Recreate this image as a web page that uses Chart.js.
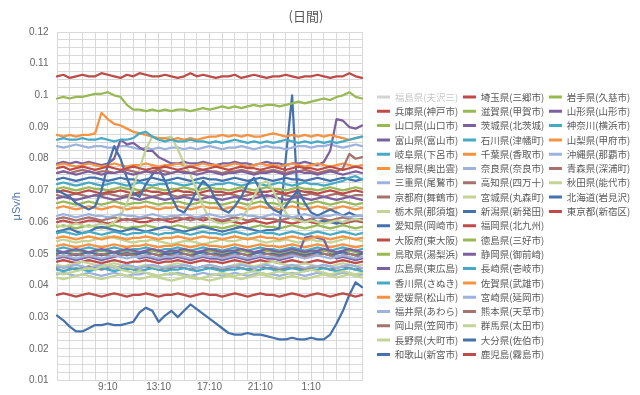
<!DOCTYPE html>
<html><head><meta charset="utf-8">
<script src="https://cdn.jsdelivr.net/npm/chart.js@4"></script>
<style>html,body{margin:0;padding:0;background:#fff;}canvas{display:block;}</style>
</head><body>
<canvas id="c" width="640" height="395"></canvas>
<script>
const timeLabels = ['5:10','5:40','6:10','6:40','7:10','7:40','8:10','8:40','9:10','9:40','10:10','10:40','11:10','11:40','12:10','12:40','13:10','13:40','14:10','14:40','15:10','15:40','16:10','16:40','17:10','17:40','18:10','18:40','19:10','19:40','20:10','20:40','21:10','21:40','22:10','22:40','23:10','23:40','0:10','0:40','1:10','1:40','2:10','2:40','3:10','3:40','4:10','4:40','5:10'];
const xTickLabels = ['9:10','13:10','17:10','21:10','1:10'];
const yTickLabels = ['0.01','0.02','0.03','0.04','0.05','0.06','0.07','0.08','0.09','0.1','0.11','0.12'];
const seriesNames = ['福島県(夫沢三)','兵庫県(神戸市)','山口県(山口市)','富山県(富山市)','岐阜県(下呂市)','島根県(奥出雲)','三重県(尾鷲市)','京都府(舞鶴市)','栃木県(那須塩)','愛知県(岡崎市)','大阪府(東大阪)','鳥取県(湯梨浜)','広島県(東広島)','香川県(さぬき)','愛媛県(松山市)','福井県(あわら)','岡山県(笠岡市)','長野県(大町市)','和歌山(新宮市)','埼玉県(三郷市)','滋賀県(甲賀市)','茨城県(北茨城)','石川県(津幡町)','千葉県(香取市)','奈良県(奈良市)','高知県(四万十)','宮城県(丸森町)','新潟県(新発田)','福岡県(北九州)','徳島県(三好市)','静岡県(御前崎)','長崎県(壱岐市)','佐賀県(武雄市)','宮崎県(延岡市)','熊本県(天草市)','群馬県(太田市)','大分県(佐伯市)','鹿児島(霧島市)','岩手県(久慈市)','山形県(山形市)','神奈川(横浜市)','山梨県(甲府市)','沖縄県(那覇市)','青森県(深浦町)','秋田県(能代市)','北海道(岩見沢)','東京都(新宿区)'];

// values in 0.001 μSv/h
const fukushima = [];
const hyogo = [77,77.5,76.5,77,77.5,77,76.5, 77,77.5,77,76.5,77,77.5,77, 76.5,77,77,77.5,77,76.5,77, 77.5,77,76.5,77,77.5,77,76.5, 77,77.5,77,77,76.5,77,77.5, 77,76.5,77,77.5,77,77,76.5, 77,77.5,77,76.5,77,77.5,77];
const yamaguchi = [99,99.5,99,99.5,99.5,100,100.5, 100.5,101,100,99.5,97,95.5,95.5, 95,95.5,95,95.5,95,95.5,95.5, 95,95.5,96,95.5,96,96.5,96, 96.5,96,96.5,97,96.5,97,97, 96.5,97,97.5,98,97.5,98,98.5, 99,98.5,99.5,100,101,99.5,99];
const toyama = [75.5,76,75.5,75,75.5,76,75.5, 75,75.5,75.5,76,75.5,75,75.5, 76,75.5,75.5,75,75.5,76,75.5, 75.5,75,75.5,76,75.5,75,75.5, 75.5,76,75.5,75,75.5,75.5,76, 75.5,75,75.5,76,75.5,75.5,75, 75.5,76,75.5,75,75.5,76,75.5];
const gifu = [86,86.5,86,86,86.5,86,86, 86.5,86,85.5,86,86,86.5,88, 88.5,87,86,85.5,86,85.5,85.5, 86,85.5,85.5,85,85.5,85,85.5, 86,85.5,85,85.5,85,85.5,85, 85.5,86,85.5,85,85.5,85,85.5, 85,85.5,85,85.5,86,86.5,87];
const shimane = [87.5,87,87.5,87,87.5,87.5,88, 94.5,92.5,91,90.5,89.5,88.5,88, 87.5,87,86.5,86.5,86,86.5,86, 86.5,86,86.5,87,87,87.5,87, 87.5,87,87.5,87,87,87.5,88, 87.5,87,87.5,87,87.5,87,87.5, 87,87.5,87,86.5,86,86.5,87];
const mie = [62,62.5,62,61.5,62,62.5,62, 62,61.5,62,62.5,62,62,61.5, 62,62.5,62,61.5,62,62,62.5, 62,61.5,62,62.5,62,61.5,62, 62,62.5,62,62,61.5,62,62.5, 62,62,61.5,62,62.5,62,61.5, 62,62,62.5,62,61.5,62,62];
const kyoto = [75.5,76,75.5,76,76.5,76,75.5, 76,76,75.5,76,76.5,76,75.5, 76,76,76.5,76,75.5,76,76, 75.5,76,76.5,76,76,75.5,76, 76,76.5,76,75.5,76,76,76.5, 76,75.5,76,76,76.5,76,75.5, 76,76.5,76,77,81.5,80,80.5];
const tochigi = [59,58.5,59,59.5,59,58.5,59, 59.5,59,60,62,66,71,77, 83,87,86,86.5,87,83,78.5, 75,70,65,61,60,59.5,60, 60.5,61,64,68,72,73,70, 66,63,61,60.5,60,60.5,60, 59.5,60,60.5,60,60.5,61,60.5];
const aichi = [70,69,68,66,65,64,65, 70,78,84,80,74,69,68, 72,75,77,73,68,64,63, 66,70,73,71,67,64,63, 65,68,72,74,70,66,64, 63,65,68,70,66,63,62, 63,64,63,62,63,62,62];
const osaka = [69.5,70,69.5,69,69.5,70,69.5, 69,69.5,69.5,70,69.5,69,69.5, 70,69.5,69.5,69,69.5,70,69.5, 69.5,69,69.5,70,69.5,69.5,69, 69.5,70,69.5,69,69.5,69.5,70, 69.5,69,69.5,70,69.5,69.5,69, 69.5,70,69.5,69,69.5,70,69.5];
const tottori = [70.5,71,70.5,70,70.5,71,70.5, 70.5,70,70.5,71,70.5,70.5,70, 70.5,71,70.5,70,70.5,70.5,71, 70.5,70,70.5,71,70.5,70.5,70, 70.5,71,70.5,70,70.5,71,70.5, 70.5,70,70.5,71,70.5,70.5,70, 70.5,71,70.5,70,70.5,71,70.5];
const hiroshima = [67.5,68,67.5,67,67.5,68,68.5, 68,67.5,67,67.5,68,67.5,67, 67.5,68,67.5,67,67.5,67.5,68, 67.5,67,67.5,68,67.5,67,67.5, 68,67.5,67,67.5,68,68.5,68, 67.5,67,67.5,68,67.5,67,67.5, 68,67.5,67,67.5,68,67.5,67];
const kagawa = [72,72.5,72,71.5,72,72.5,72, 71.5,72,72.5,72,71.5,72,72.5, 72,71.5,72,72,72.5,72,71.5, 72,72.5,72,71.5,72,72,72.5, 72,71.5,72,72.5,72,71.5,72, 72.5,72,71.5,72,72.5,72,72, 71.5,72,72.5,73,74,74.5,73.5];
const ehime = [78,78.5,78,77.5,78,78.5,78, 77.5,78,78.5,78,77.5,78,78, 78.5,78,77.5,78,78,78.5,78, 77.5,78,78.5,78,78,77.5,78, 78.5,78,77.5,78,78.5,78,78, 77.5,78,78.5,78,77.5,78,78.5, 78,77.5,78,78.5,78,77.5,78];
const fukui = [49,49.5,49,48.5,49,49.5,49, 48.5,49,49.5,49,48.5,49,49, 49.5,49,48.5,49,49,49.5,49, 48.5,49,49.5,49,49,48.5,49, 49.5,49,48.5,49,49.5,49,49, 48.5,49,49.5,49,48.5,49,49.5, 49,48.5,49,49.5,49,48.5,49];
const okayama = [68.5,68,68.5,69,68.5,68,68.5, 68.5,69,68.5,68,68.5,68.5,69, 68.5,68,68.5,69,68.5,68,68.5, 68.5,69,68.5,68,68.5,68.5,69, 68.5,68,68.5,69,68.5,68,68.5, 69,68.5,68,68.5,68.5,69,68.5, 68,68.5,69,68.5,68,68.5,68.5];
const nagano = [44,43.5,44,44.5,45,45.5,45, 46,46.5,46,45,44.5,44,44.5, 44,43.5,43,43.5,44,43.5,43, 42.5,42,42.5,43,43.5,44,43.5, 43,43.5,44,44.5,44,43.5,44, 44.5,44,43.5,44,44.5,45,44.5, 44,43.5,44,44.5,44,43.5,44];
const wakayama = [73.5,74,73.5,73,73.5,74,74, 73.5,73,73.5,74,73.5,73.5,73, 73.5,74,73.5,73,73.5,74,73.5, 73,73.5,74,73.5,73.5,73,73.5, 74,73.5,73,73.5,74,73.5,73, 73.5,74,73.5,73.5,73,73.5,74, 73.5,73,73.5,74,73.5,73,73.5];
const saitama = [106,106.5,105.5,106,106.5,106,106, 107,106.5,106,105.5,106.5,106,107, 106.5,106,106,106.5,106,105.5,106, 107,106,106.5,106,105.5,106,106, 106.5,105.5,106,106.5,106,105.5,106, 106,106.5,106,105.5,106,106,106.5, 106,105.5,106,106,107,106,105.5];
const shiga = [66,66.5,66,65.5,66,66.5,66, 65.5,66,66.5,66,65.5,66,66, 66.5,66,65.5,66,66,66.5,66, 65.5,66,66.5,66,66,65.5,66, 66.5,66,65.5,66,66.5,66,66, 65.5,66,66.5,66,65.5,66,66.5, 66,65.5,66,66.5,66,65.5,66];
const ibaraki = [78.5,79,78.5,79,78.5,79,78.5, 78,78.5,80,86,84.5,85,83.5, 82.5,82.5,80.5,79.5,78.5,78.5,79, 78.5,78.5,79,78.5,78,78.5,78.5, 79,78.5,78.5,78,78.5,79,78.5, 78.5,78,78.5,78.5,79,78.5,78, 79,82.5,92.5,92,90,89.5,90.5];
const ishikawa = [56.5,57,56.5,56,56.5,57,56.5, 56,56.5,57,56.5,56,56.5,56.5, 57,56.5,56,56.5,56.5,57,56.5, 56,56.5,57,56.5,56.5,56,56.5, 57,56.5,56,56.5,57,56.5,56.5, 56,56.5,57,56.5,56,56.5,57, 56.5,56,56.5,57,56.5,56,56.5];
const chiba = [64.5,65,64.5,64,64.5,65,64.5, 64,64.5,65,64.5,64,64.5,64.5, 65,64.5,64,64.5,64.5,65,64.5, 64,64.5,65,64.5,64.5,64,64.5, 65,64.5,64,64.5,65,64.5,64.5, 64,64.5,65,64.5,64,64.5,65, 64.5,64,64.5,65,64.5,64,64.5];
const nara = [84,83.5,84,84.5,84,83.5,84, 84,83.5,83.5,84,84,83.5,83, 83.5,83,83.5,83,83.5,83.5,83, 83.5,83,83.5,84,83.5,83,83.5, 83.5,84,83.5,83,83.5,84,83.5, 83.5,83,83.5,84,84,83.5,84, 84,84.5,84,83.5,84,84.5,84];
const kochi = [61,61.5,61,60.5,61,61.5,61, 60.5,61,61.5,61,60.5,61,61, 61.5,61,60.5,61,61,61.5,61, 60.5,61,61.5,61,61,60.5,61, 61.5,61,60.5,61,61.5,61,61, 60.5,61,61.5,61,60.5,61,61.5, 61,60.5,61,61.5,61,60.5,61];
const miyagi = [42.5,42,42.5,43,43.5,43,42.5, 42,42.5,43,43.5,43,42.5,42, 42.5,43,42.5,42,41.5,42,42.5, 43,42.5,42,41.5,42,42.5,43, 42.5,42,42.5,43,43.5,43,42.5, 42,42.5,43,42.5,42,42.5,43, 43.5,43,42.5,43,43.5,43,42.5];
const niigata = [57,57.5,58,57,56.5,57,58, 58.5,58,57.5,57,57.5,58,57.5, 57,57.5,58,58.5,58,57.5,57, 57.5,58,58.5,58,57.5,57,57.5, 58,58.5,58,57.5,57,57.5,57.5, 58,80,100,63,60,61,60, 60.5,60,59.5,60,60.5,61,60.5];
const fukuoka = [37,37.5,37,36.5,37,37.5,37, 36.5,37,37.5,37,36.5,37,37, 37.5,37,36.5,37,37,37.5,37, 36.5,37,37.5,37,37,36.5,37, 37.5,37,36.5,37,37.5,37,37, 36.5,37,37.5,37,36.5,37,37.5, 37,36.5,37,37.5,37,36.5,37];
const tokushima = [58.5,59,58.5,58,58.5,59,58.5, 58,58.5,59,58.5,58,58.5,58.5, 59,58.5,58,58.5,58.5,59,58.5, 58,58.5,59,58.5,58.5,58,58.5, 59,58.5,58,58.5,59,58.5,58.5, 58,58.5,59,58.5,58,58.5,59, 58.5,58,58.5,59,58.5,58,58.5];
const shizuoka = [51,50.5,51,51.5,51,50.5,51, 51.5,51,50.5,51,51.5,51,50.5, 51,51.5,51,50.5,51,51,51.5, 51,50.5,51,51.5,51,50.5,51, 51,51.5,51,50.5,51,51.5,51, 50.5,51,51.5,51,50.5,51,51, 51.5,51,50.5,51,51.5,51,50.5];
const nagasaki = [51.5,52,51.5,51,51.5,52,51.5, 51,51.5,52,51.5,51,51.5,51.5, 52,51.5,51,51.5,51.5,52,51.5, 51,51.5,52,51.5,51.5,51,51.5, 52,51.5,51,51.5,52,51.5,51.5, 51,51.5,52,51.5,51,51.5,52, 51.5,51,51.5,52,51.5,51,51.5];
const saga = [55,55.5,55,54.5,55,55.5,55, 54.5,55,55.5,55,54.5,55,55, 55.5,55,54.5,55,55,55.5,55, 54.5,55,55.5,55,55,54.5,55, 55.5,55,54.5,55,55.5,55,55, 54.5,55,55.5,55,54.5,55,55.5, 55,54.5,55,55.5,55,54.5,55];
const miyazaki = [46,45.5,46,46.5,46,45.5,46, 46.5,46,45.5,46,46.5,46,45.5, 46,46.5,46,45.5,46,46,46.5, 46,45.5,46,46.5,46,45.5,46, 46,46.5,46,45.5,46,46.5,46, 45.5,46,46.5,46,45.5,46,46, 46.5,46,45.5,46,46.5,46,45.5];
const kumamoto = [49.5,49,49.5,50,49.5,49,49.5, 50,49.5,49,49.5,50,49.5,49, 49.5,50,49.5,49,49.5,49.5,50, 49.5,49,49.5,50,49.5,49,49.5, 49.5,50,49.5,49,49.5,50,49.5, 49,49.5,50,49.5,49,49.5,49.5, 50,49.5,49,49.5,50,49.5,49];
const gunma = [46.5,46,46.5,47,47.5,47,46.5, 46,46.5,47,46.5,46,45.5,46, 46.5,46,45.5,46,46.5,47,46.5, 46,45.5,46,46.5,46,45.5,46, 46.5,47,46.5,46,46.5,47,47.5, 47,46.5,46,46.5,47,46.5,46, 46.5,46,46.5,47,46.5,46,46.5];
const oita = [50,50.5,50,49.5,50,50.5,50, 49.5,50,50.5,50,49.5,50,50, 50.5,50,49.5,50,50,50.5,50, 49.5,50,50.5,50,50,49.5,50, 50.5,50,49.5,50,50.5,50,50, 49.5,50,50.5,50,49.5,50,50.5, 50,49.5,50,50.5,50,49.5,50];
const kagoshima = [60,60.5,60,59.5,60,60.5,60.5, 60,59.5,60,60.5,61,60.5,60, 60,60.5,61,60.5,60,60.5,61, 61.5,61,60.5,61,60.5,60,60.5, 60,59.5,60,60.5,60,59.5,60, 60.5,60,59.5,60,60.5,60,59.5, 60,60.5,60,59.5,60,60.5,60];
const iwate = [50.5,50,50.5,51,50.5,50,50.5, 51,50.5,50,50.5,51,50.5,50, 50.5,51,50.5,50,50.5,50.5,51, 50.5,50,50.5,51,50.5,50,50.5, 50.5,51,50.5,50,50.5,51,50.5, 50,50.5,51,50.5,50,50.5,50.5, 51,50.5,50,50.5,51,50.5,50];
const yamagata = [48.5,49,48.5,48,48.5,49,48.5, 48,48.5,49,50,50.5,49.5,48.5, 49,48.5,48,48.5,48.5,49,48.5, 48,48.5,49,48.5,48.5,48,48.5, 49,48.5,48,48.5,49,48.5,48.5, 48,48.5,49,50,55,55.5,55, 54.5,50,48.5,49,48.5,48,48.5];
const kanagawa = [45,44.5,45,45.5,45,44.5,45, 45.5,45,44.5,45,45.5,45,44.5, 45,45.5,45,44.5,45,45,45.5, 45,44.5,45,45.5,45,44.5,45, 45,45.5,45,44.5,45,45.5,45, 44.5,45,45.5,45,44.5,45,45, 45.5,45,44.5,45,45.5,45,44.5];
const yamanashi = [52.5,53,52.5,52,52.5,53,52.5, 52,52.5,53,52.5,52,52.5,52.5, 53,52.5,52,52.5,52.5,53,52.5, 52,52.5,53,52.5,52.5,52,52.5, 53,52.5,52,52.5,53,52.5,52.5, 52,52.5,53,52.5,52,52.5,53, 52.5,52,52.5,53,52.5,52,52.5];
const okinawa = [43.5,44,43.5,43,43.5,44,43.5, 43,43.5,44,43.5,43,43.5,43.5, 44,43.5,43,43.5,43.5,44,43.5, 43,43.5,44,43.5,43.5,43,43.5, 44,43.5,43,43.5,44,43.5,43.5, 43,43.5,44,43.5,43,43.5,44, 43.5,43,43.5,44,43.5,43,43.5];
const aomori = [45.5,46,45.5,45,45.5,46,45.5, 45,45.5,46,45.5,45,45.5,45.5, 46,45.5,45,45.5,45.5,46,45.5, 45,45.5,46,45.5,45.5,45,45.5, 46,45.5,45,45.5,46,45.5,45.5, 45,45.5,46,45.5,45,45.5,46, 45.5,45,45.5,46,45.5,45,45.5];
const akita = [54,54.5,54,53.5,54,54,54.5, 55,55.5,55,54.5,54,53.5,54, 54,54.5,54,53.5,53,53.5,54, 54,53.5,53,53.5,54,54.5,54, 54,54.5,55,54.5,54,53.5,54, 54,54.5,54,53.5,54,54.5,54, 54,53.5,54,54.5,55,54.5,54];
const hokkaido = [30.5,29,27,25.5,25.5,26.5,27.5, 27.5,28,27.5,27.5,28,28.5,31.5, 33,32,28.5,30.5,32,30,32, 34,32.5,31,29.5,28,26.5,25, 24.5,24.5,25,24.5,24.5,24,23.5, 23,23,23.5,23,23,23.5,23, 23,24.5,28,32,37,41,39.5];
const tokyo = [47.5,48,47.5,47,47.5,48,47.5, 47,47.5,48,47.5,47,47.5,47.5, 48,47.5,47,47.5,47.5,48,47.5, 47,47.5,48,47.5,47.5,47,47.5, 48,47.5,47,47.5,48,47.5,47.5, 47,47.5,48,47.5,47,47.5,48, 47.5,47,47.5,48,47.5,47,47.5];

const seriesValues = [fukushima,hyogo,yamaguchi,toyama,gifu,shimane,mie,kyoto,tochigi,aichi,osaka,tottori,hiroshima,kagawa,ehime,fukui,okayama,nagano,wakayama,saitama,shiga,ibaraki,ishikawa,chiba,nara,kochi,miyagi,niigata,fukuoka,tokushima,shizuoka,nagasaki,saga,miyazaki,kumamoto,gunma,oita,kagoshima,iwate,yamagata,kanagawa,yamanashi,okinawa,aomori,akita,hokkaido,tokyo];

const palette = ['#4572AC','#BE4B48','#98B954','#7D60A0','#46AAC5','#F69240','#9DB3DE','#A5726D','#C2D596'];
const hiddenColor = '#D3D3D3';
const colorFor = i => i === 0 ? hiddenColor : palette[i % 9];

const CJK = "'Noto Sans CJK JP', 'Noto Sans', sans-serif";
const LAT = "'Liberation Sans', Arial, sans-serif";

const datasets = seriesNames.map((name, i) => ({
  label: name,
  data: seriesValues[i].map(v => v / 1000),
  borderColor: colorFor(i),
  backgroundColor: colorFor(i),
  borderWidth: 2.25,
  pointRadius: 0,
  pointHoverRadius: 0,
  tension: 0,
  fill: false,
  borderJoinStyle: 'round',
  borderCapStyle: 'round'
}));

const legendNudge = {
  id: 'legendNudge',
  afterLayout(chart) {
    const l = chart.legend;
    if (!l) return;
    l.left += 10.2;
    l.right = chart.width;
    l.top -= 12.55; l.bottom -= 12.55;
  }
};

new Chart(document.getElementById('c'), {
  type: 'line',
  data: { labels: timeLabels, datasets },
  plugins: [legendNudge],
  options: {
    responsive: false,
    devicePixelRatio: 1,
    animation: false,
    events: [],
    layout: { padding: { right: 28 } },
    plugins: {
      title: {
        display: true, text: '(日間)', color: '#595959',
        font: { size: 13, weight: 'normal', family: CJK },
        padding: { top: 8, bottom: 8.4 }
      },
      legend: {
        position: 'right', align: 'start', fullSize: false, maxWidth: 250,
        title: { display: true, text: ' ', font: { size: 10 }, padding: { top: 28, bottom: 28 } },
        labels: {
          boxWidth: 13, boxHeight: 3, padding: 4.8,
          font: { size: 9.5, family: CJK }, color: '#595959',
          generateLabels(chart) {
            return chart.data.datasets.map((ds, i) => ({
              text: ds.label,
              fillStyle: colorFor(i),
              strokeStyle: colorFor(i),
              lineWidth: 0,
              hidden: false,
              fontColor: i === 0 ? '#C8C8C8' : '#595959',
              datasetIndex: i
            }));
          }
        }
      },
      tooltip: { enabled: false }
    },
    scales: {
      x: {
        type: 'category',
        offset: false,
        grid: { color: ctx => (ctx.index % 2 === 0 ? '#D9D9D9' : 'rgba(0,0,0,0)'), drawTicks: false, lineWidth: 1 },
        border: { display: false },
        ticks: {
          autoSkip: false, maxRotation: 0, minRotation: 0, padding: 1, color: '#666666',
          font: { size: 10, family: LAT },
          callback: (v, i) => (xTickLabels.includes(timeLabels[i]) ? timeLabels[i] : '')
        },
        afterFit: s => { s.height = 11; }
      },
      y: {
        min: 0.01, max: 0.12,
        grid: { color: '#D9D9D9', drawTicks: false, lineWidth: 1 },
        border: { display: false },
        ticks: {
          stepSize: 0.0025, autoSkip: false, padding: 8.5, color: '#666666',
          font: { size: 10, family: LAT },
          callback: v => { const k = Math.round(v * 400); return k % 4 ? '' : yTickLabels[k / 4 - 1]; }
        },
        title: { display: true, text: 'μSv/h', color: '#4F74A8', font: { size: 11, family: LAT }, padding: { top: 10.4, bottom: 0 } },
        afterFit: s => { s.width = 57; }
      }
    }
  }
});
</script>
</body></html>
